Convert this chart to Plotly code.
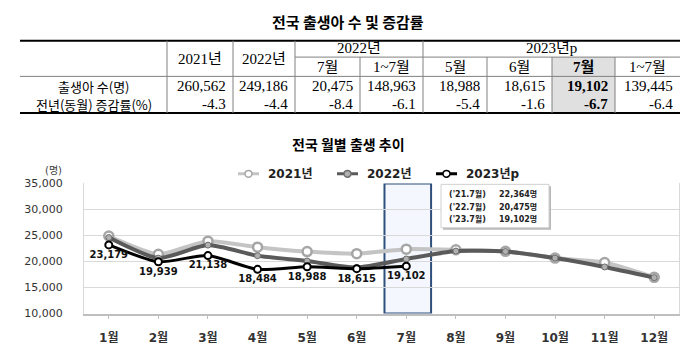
import plotly.graph_objects as go

W, H = 700, 362

# ---------------- data ----------------
months = ["1월", "2월", "3월", "4월", "5월", "6월", "7월", "8월", "9월", "10월", "11월", "12월"]
series_names = ["2021년", "2022년", "2023년p"]
births_2021 = [24900, 21400, 23900, 22750, 21900, 21500, 22364, 22250, 21950, 20650, 19800, 16950]
births_2022 = [24600, 20650, 23150, 21100, 20100, 18830, 20475, 22000, 21920, 20660, 18950, 16900]
births_2023 = [23179, 19939, 21138, 18484, 18988, 18615, 19102]
y_ticks = [10000, 15000, 20000, 25000, 30000, 35000]

box_labels = ["('21.7월)", "('22.7월)", "('23.7월)"]

tbl_top_headers = ["2021년", "2022년"]
tbl_group_headers = ["2022년", "2023년p"]
tbl_sub_headers = ["7월", "1~7월", "5월", "6월", "7월", "1~7월"]
tbl_row_labels = ["출생아 수(명)", "전년(동월) 증감률(%)"]
tbl_births = ["260,562", "249,186", "20,475", "148,963", "18,988", "18,615", "19,102", "139,445"]
tbl_rates = ["-4.3", "-4.4", "-8.4", "-6.1", "-5.4", "-1.6", "-6.7", "-6.4"]

# ---------------- helpers ----------------
def px(x):
    return x / W

def py(y):
    return 1 - y / H

shapes = []
annotations = []

def text(x, y, s, size=14, family="Liberation Serif, Noto Sans CJK KR", color="#000",
         xanchor="center", bold=False):
    annotations.append(dict(
        x=px(x), y=py(y), xref="paper", yref="paper", text=s, showarrow=False,
        xanchor=xanchor, yanchor="middle",
        font=dict(size=size, family=family, color=color, weight="bold" if bold else "normal")))

def hline(x0, x1, y, color="#808080", width=1):
    shapes.append(dict(type="line", xref="paper", yref="paper", x0=px(x0), x1=px(x1),
                       y0=py(y), y1=py(y), line=dict(color=color, width=width)))

def vline(x, y0, y1, color="#808080", width=1):
    shapes.append(dict(type="line", xref="paper", yref="paper", x0=px(x), x1=px(x),
                       y0=py(y0), y1=py(y1), line=dict(color=color, width=width)))

# ---------------- table ----------------
col_edges = [20, 167, 233, 295, 360, 423, 487, 552, 615, 680]
y_top, y_mid, y_head, y_bot = 36, 53, 73, 111

# shaded 7월 cell
shapes.append(dict(type="rect", xref="paper", yref="paper", x0=px(552), x1=px(615),
                   y0=py(y_mid), y1=py(y_bot), fillcolor="#e0e0e0", line=dict(width=0), layer="below"))

hline(col_edges[0], col_edges[-1], y_top, color="#000", width=2)
hline(col_edges[3], col_edges[-1], y_mid)
hline(col_edges[0], col_edges[-1], y_head)
hline(col_edges[0], col_edges[-1], y_bot, color="#000", width=2)
for x in [167, 233, 295, 423]:
    vline(x, y_top, y_bot)
for x in [360, 487, 552, 615]:
    vline(x, y_mid, y_bot)

text(348, 16, "전국 출생아 수 및 증감률", size=15, family="Noto Sans CJK KR", bold=True)

centers = [(col_edges[i] + col_edges[i + 1]) / 2 for i in range(len(col_edges) - 1)]
text(centers[1], 55, tbl_top_headers[0], size=15)
text(centers[2], 55, tbl_top_headers[1], size=15)
text((295 + 423) / 2, 44, tbl_group_headers[0], size=15)
text((423 + 680) / 2, 44, tbl_group_headers[1], size=15)
for i, s in enumerate(tbl_sub_headers):
    text(centers[3 + i], 63, s, size=15, bold=(i == 4))
text(94, 83, tbl_row_labels[0], size=13, family="Noto Sans CJK KR")
text(94, 102, tbl_row_labels[1], size=13, family="Noto Sans CJK KR")
for i in range(len(tbl_births)):
    right = col_edges[i + 2] - 5
    text(right, 83, tbl_births[i], size=15, xanchor="right", bold=(i == 6))
    text(right, 102, tbl_rates[i], size=15, xanchor="right", bold=(i == 6))

# ---------------- chart ----------------
text(348, 143, "전국 월별 출생 추이", size=14, family="Noto Sans CJK KR", bold=True)
text(53, 171, "(명)", size=10, family="DejaVu Sans, Noto Sans CJK KR", color="#404040")

# highlight 7월
shapes.append(dict(type="rect", xref="x", yref="y", x0=5.56, x1=6.5, y0=10000, y1=35000,
                   fillcolor="#f4f7fd", line=dict(color="#2f4f7f", width=2), layer="below"))

# value box
bx0, bx1, by0, by1 = 441, 549, 185, 230
shapes.append(dict(type="rect", xref="paper", yref="paper", x0=px(bx0 + 2), x1=px(bx1 + 2),
                   y0=py(by0 + 2), y1=py(by1 + 2), fillcolor="#b8b8b8", line=dict(width=0)))
shapes.append(dict(type="rect", xref="paper", yref="paper", x0=px(bx0), x1=px(bx1),
                   y0=py(by0), y1=py(by1), fillcolor="#ffffff", line=dict(color="#d0d0d0", width=1)))
box_vals = [births_2021[6], births_2022[6], births_2023[6]]
for i, (lab, v) in enumerate(zip(box_labels, box_vals)):
    yy = 195 + i * 13
    text(447, yy, lab, size=8, family="DejaVu Sans, Noto Sans CJK KR", xanchor="left", bold=True, color="#222")
    text(497, yy, f"{v:,}명", size=8, family="DejaVu Sans, Noto Sans CJK KR", xanchor="left", bold=True, color="#222")

fig = go.Figure()
fig.add_trace(go.Scatter(
    x=months, y=births_2021, name=series_names[0], mode="lines+markers",
    line=dict(color="#c4c4c4", width=4, shape="spline", smoothing=0.6),
    marker=dict(symbol="circle", size=9, color="#ffffff", line=dict(color="#a6a6a6", width=2.5))))
fig.add_trace(go.Scatter(
    x=months, y=births_2022, name=series_names[1], mode="lines+markers",
    line=dict(color="#5a5a5a", width=4, shape="spline", smoothing=0.6),
    marker=dict(symbol="circle", size=6, color="#b0b0b0", line=dict(color="#6e6e6e", width=1))))
fig.add_trace(go.Scatter(
    x=months[:len(births_2023)], y=births_2023, name=series_names[2], mode="lines+markers+text",
    line=dict(color="#000000", width=3, shape="spline", smoothing=0.6),
    marker=dict(symbol="circle", size=7, color="#ffffff", line=dict(color="#000000", width=2)),
    text=[f"{v:,}" for v in births_2023], textposition="bottom center",
    textfont=dict(size=10, family="DejaVu Sans", color="#111", weight="bold")))

# manual legend
leg = [(238, "#c4c4c4", "#ffffff", "#a6a6a6", 3), (337, "#5a5a5a", "#b0b0b0", "#6e6e6e", 3),
       (436, "#000000", "#ffffff", "#000000", 3)]
for (lx, lc, fc, mc, w), name in zip(leg, series_names):
    shapes.append(dict(type="line", xref="paper", yref="paper", x0=px(lx), x1=px(lx + 21),
                       y0=py(174), y1=py(174), line=dict(color=lc, width=w)))
    shapes.append(dict(type="circle", xref="paper", yref="paper", x0=px(lx + 7), x1=px(lx + 14),
                       y0=py(177.5), y1=py(170.5), fillcolor=fc, line=dict(color=mc, width=1.5)))
    text(lx + 28, 174, name, size=12, family="DejaVu Sans, Noto Sans CJK KR", xanchor="left",
         bold=True, color="#222")

fig.update_layout(
    width=W, height=H, autosize=False,
    margin=dict(l=0, r=0, t=0, b=0),
    paper_bgcolor="#ffffff", plot_bgcolor="#ffffff",
    showlegend=False,
    shapes=shapes, annotations=annotations,
    xaxis=dict(domain=[px(84), px(679)], range=[-0.5, 11.5], type="category",
               showline=True, linecolor="#bfbfbf", linewidth=1.5, showgrid=False,
               ticks="outside", ticklen=4, tickcolor="#bfbfbf",
               tickfont=dict(size=12, family="DejaVu Sans, Noto Sans CJK KR", color="#333", weight="bold"),
               ticklabelstandoff=8),
    yaxis=dict(domain=[py(319), py(184)], range=[10000, 35000], tickvals=y_ticks,
               tickformat=",", showline=True, mirror=True, linecolor="#d9d9d9", linewidth=1,
               gridcolor="#d9d9d9", gridwidth=1, zeroline=False,
               tickfont=dict(size=11, family="DejaVu Sans", color="#333"),
               ticklabelstandoff=18),
)

fig.write_html("out.html", config={"displayModeBar": False},
               post_script="document.body.style.margin='0px';document.body.style.overflow='hidden';")
